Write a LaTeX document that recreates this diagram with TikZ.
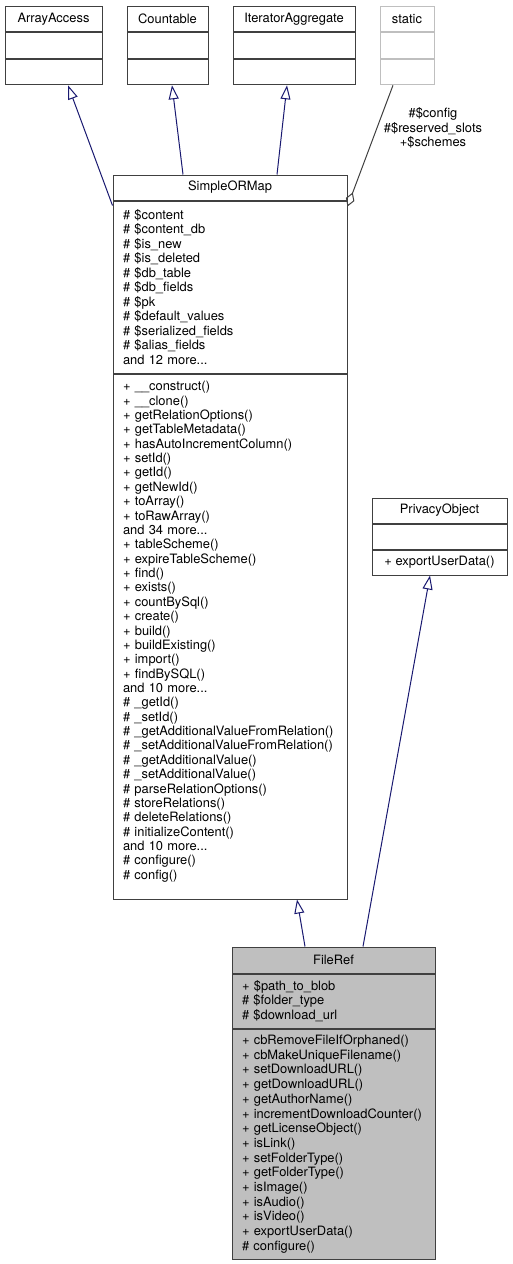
\documentclass[tikz,border=0pt]{standalone}
\usepackage{fontspec}
\setmainfont{TeX Gyre Heros}
\definecolor{edgeblue}{RGB}{25, 25, 112}
\definecolor{boxline}{RGB}{64, 64, 64}
\definecolor{lightline}{RGB}{191, 191, 191}
\definecolor{curfill}{RGB}{191, 191, 191}
\usetikzlibrary{arrows.meta, positioning}

\tikzset{
  classhead/.style={draw=boxline, line width=1pt, inner sep=0pt, minimum height=25pt},
  emptypart/.style={draw=boxline, line width=1pt, inner sep=0pt, minimum height=25.5pt},
  members/.style={draw=boxline, line width=1pt, inner xsep=10pt, inner ysep=0pt, align=left},
  inherit/.style={edgeblue, line width=1pt, -{Triangle[open, length=14pt, width=10pt]}},
  usage/.style={boxline, line width=1pt, {Diamond[open, length=15pt, width=9pt]}-},
}

\begin{document}
\begin{tikzpicture}[x=1pt, y=-1pt, font=\fontsize{12.9}{14.5}\selectfont]
  \useasboundingbox (0, 0) rectangle (512, 1264);

  % Interfaces
  \node[emptypart, minimum width=97pt] (arrayaccess) at (53.5, 19) {ArrayAccess};
  \node[emptypart, minimum width=97pt, below=0pt of arrayaccess] (arrayaccess-attr) {};
  \node[emptypart, minimum width=97pt, below=0pt of arrayaccess-attr] (arrayaccess-meth) {};

  \node[emptypart, minimum width=81pt] (countable) at (167.5, 19) {Countable};
  \node[emptypart, minimum width=81pt, below=0pt of countable] (countable-attr) {};
  \node[emptypart, minimum width=81pt, below=0pt of countable-attr] (countable-meth) {};

  \node[emptypart, minimum width=122pt] (iteratoraggregate) at (294, 19) {IteratorAggregate};
  \node[emptypart, minimum width=122pt, below=0pt of iteratoraggregate] (iteratoraggregate-attr) {};
  \node[emptypart, minimum width=122pt, below=0pt of iteratoraggregate-attr] (iteratoraggregate-meth) {};

  \node[emptypart, draw=lightline, minimum width=54pt] (static) at (407, 19) {static};
  \node[emptypart, draw=lightline, minimum width=54pt, below=0pt of static] (static-attr) {};
  \node[emptypart, draw=lightline, minimum width=54pt, below=0pt of static-attr] (static-meth) {};

  % SimpleORMap
  \node[classhead, minimum width=234pt] (simpleormap) at (230, 187.5) {SimpleORMap};
  \node[members, text width=214pt, minimum height=172pt, below=0pt of simpleormap] (simpleormap-attr) {
    \# \$content\\
    \# \$content\_db\\
    \# \$is\_new\\
    \# \$is\_deleted\\
    \# \$db\_table\\
    \# \$db\_fields\\
    \# \$pk\\
    \# \$default\_values\\
    \# \$serialized\_fields\\
    \# \$alias\_fields\\
    and 12 more...
  };
  \node[members, text width=214pt, minimum height=525pt, below=0pt of simpleormap-attr,
        font=\fontsize{12.9}{14.37}\selectfont] (simpleormap-meth) {
    + \_\_construct()\\
    + \_\_clone()\\
    + getRelationOptions()\\
    + getTableMetadata()\\
    + hasAutoIncrementColumn()\\
    + setId()\\
    + getId()\\
    + getNewId()\\
    + toArray()\\
    + toRawArray()\\
    and 34 more...\\
    + tableScheme()\\
    + expireTableScheme()\\
    + find()\\
    + exists()\\
    + countBySql()\\
    + create()\\
    + build()\\
    + buildExisting()\\
    + import()\\
    + findBySQL()\\
    and 10 more...\\
    \# \_getId()\\
    \# \_setId()\\
    \#~\_getAdditionalValueFromRelation()\\
    \#~\_setAdditionalValueFromRelation()\\
    \# \_getAdditionalValue()\\
    \# \_setAdditionalValue()\\
    \# parseRelationOptions()\\
    \# storeRelations()\\
    \# deleteRelations()\\
    \# initializeContent()\\
    and 10 more...\\
    \# configure()\\
    \# config()\\[-2pt]
    \mbox{}
  };

  % PrivacyObject
  \node[classhead, minimum width=135pt] (privacyobject) at (439.5, 510.5) {PrivacyObject};
  \node[classhead, minimum width=135pt, below=0pt of privacyobject] (privacyobject-attr) {};
  \node[classhead, minimum width=135pt, below=0pt of privacyobject-attr] (privacyobject-meth) {+ exportUserData()};

  % FileRef
  \node[classhead, fill=curfill, minimum width=203pt, minimum height=26pt] (fileref) at (333.5, 960) {FileRef};
  \node[members, fill=curfill, text width=183pt, minimum height=54pt, below=0pt of fileref] (fileref-attr) {
    + \$path\_to\_blob\\
    \# \$folder\_type\\
    \# \$download\_url
  };
  \node[members, fill=curfill, text width=183pt, minimum height=230pt, below=0pt of fileref-attr,
        font=\fontsize{12.9}{14.7}\selectfont] (fileref-meth) {
    + cbRemoveFileIfOrphaned()\\
    + cbMakeUniqueFilename()\\
    + setDownloadURL()\\
    + getDownloadURL()\\
    + getAuthorName()\\
    +~incrementDownloadCounter()\\
    + getLicenseObject()\\
    + isLink()\\
    + setFolderType()\\
    + getFolderType()\\
    + isImage()\\
    + isAudio()\\
    + isVideo()\\
    + exportUserData()\\
    \# configure()
  };

  % Edges
  \draw[inherit] ([yshift=-5pt]simpleormap-attr.north west) -- ([xshift=14.5pt]arrayaccess-meth.south);
  \draw[inherit] ([xshift=-47pt]simpleormap.north) -- ([xshift=4.5pt]countable-meth.south);
  \draw[inherit] ([xshift=47pt]simpleormap.north) -- ([xshift=-7pt]iteratoraggregate-meth.south);
  \draw[usage] ([yshift=-6pt]simpleormap-attr.north east) -- ([xshift=-14pt]static-meth.south);
  \node[align=center] (staticlabel) at (433, 128) {\#\$config\\\#\$reserved\_slots\\+\$schemes};

  \draw[inherit] ([xshift=-28.5pt]fileref.north) -- ([xshift=67pt]simpleormap-meth.south);
  \draw[inherit] ([xshift=29.5pt]fileref.north) -- ([xshift=-9.5pt]privacyobject-meth.south);
\end{tikzpicture}
\end{document}
